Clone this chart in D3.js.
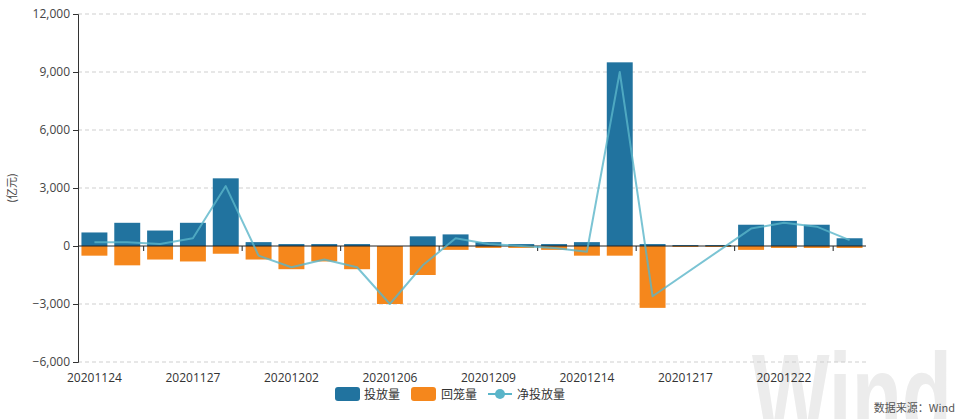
<!DOCTYPE html>
<html><head><meta charset="utf-8">
<script src="https://cdn.jsdelivr.net/npm/d3@7"></script>
<style>
html,body{margin:0;padding:0;background:#fff;}
svg{display:block;font-family:"Noto Sans CJK SC","Noto Sans",sans-serif;}
</style></head>
<body><svg id="c" width="959" height="419"></svg>
<script>
const categories = ["20201124","20201125","20201126","20201127","20201130","20201201","20201202","20201203","20201204","20201206","20201207","20201208","20201209","20201210","20201211","20201214","20201215","20201216","20201217","20201218","20201221","20201222","20201223","20201224"];
const injection = [700,1200,800,1200,3500,200,100,100,100,0,500,600,200,100,100,200,9500,100,50,50,1100,1300,1100,400];
const withdrawal = [-500,-1000,-700,-800,-400,-700,-1200,-800,-1200,-3000,-1500,-200,-100,-100,-200,-500,-500,-3200,-50,-50,-200,-100,-100,-100];
const netInjection = [200,200,100,400,3100,-500,-1100,-700,-1100,-3000,-1000,400,100,0,-100,-300,9000,-2600,null,null,900,1200,1000,300];
const yTicks = [-6000,-3000,0,3000,6000,9000,12000];
const labelIdx = [0,3,6,9,12,15,18,21];
const tickIdx = [2,5,8,11,14,17,20,23];
const seriesNames = ["投放量","回笼量","净投放量"];

const colors = {blue:"#21739f", orange:"#f5871c", line:"#5ab5c9"};
const svg = d3.select("#c");
const pLeft = 78, pRight = 866, pTop = 14, pBottom = 362;

const x = d3.scaleBand().domain(categories).range([pLeft, pRight]).padding(0);
const y = d3.scaleLinear().domain([-6000, 12000]).range([pBottom, pTop]);
const step = x.bandwidth();

// watermark
svg.append("text").attr("x", 752).attr("y", 438).attr("font-size", 120).attr("font-weight", "bold")
  .attr("font-family","'Liberation Sans Narrow','Liberation Sans',Arial,sans-serif")
  .attr("textLength", 200).attr("lengthAdjust", "spacingAndGlyphs")
  .attr("fill", "#ececec").text("Wind");

// grid
svg.append("g").selectAll("line").data(yTicks.filter(d => d !== 0)).join("line")
  .attr("x1", pLeft).attr("x2", pRight).attr("y1", d => y(d)).attr("y2", d => y(d))
  .attr("stroke", "#cfcfcf").attr("stroke-dasharray", "4,3");

// y axis
const yAxis = d3.axisLeft(y).tickValues(yTicks).tickSize(5).tickPadding(3)
  .tickFormat(d => d3.format(",")(d));
const gy = svg.append("g").attr("transform", `translate(${pLeft},0)`).call(yAxis);
gy.select(".domain").attr("stroke", "#333");
gy.selectAll(".tick line").attr("stroke", "#333");
gy.selectAll(".tick text").attr("fill", "#444").attr("font-size", 12)
  .attr("font-family","'Open Sans','Noto Sans',sans-serif");

svg.append("text").attr("transform", `translate(16,${188}) rotate(-90)`)
  .attr("text-anchor", "middle").attr("font-size", 11).attr("fill", "#444").text("(亿元)");

// bars
const bw = step * 0.79;
svg.append("g").selectAll("rect").data(categories).join("rect")
  .attr("x", (d) => x(d) + (step - bw) / 2).attr("width", bw)
  .attr("y", (d, i) => y(injection[i])).attr("height", (d, i) => y(0) - y(injection[i]))
  .attr("fill", colors.blue);
svg.append("g").selectAll("rect").data(categories).join("rect")
  .attr("x", (d) => x(d) + (step - bw) / 2).attr("width", bw)
  .attr("y", y(0)).attr("height", (d, i) => y(withdrawal[i]) - y(0))
  .attr("fill", colors.orange);

// zero axis
svg.append("line").attr("x1", pLeft).attr("x2", pRight).attr("y1", y(0)).attr("y2", y(0))
  .attr("stroke", "#222").attr("stroke-width", 1);
svg.append("g").selectAll("line").data(tickIdx).join("line")
  .attr("x1", i => x(categories[i])).attr("x2", i => x(categories[i]))
  .attr("y1", y(0)).attr("y2", y(0) + 5).attr("stroke", "#222");

// x labels
svg.append("g").selectAll("text").data(labelIdx).join("text")
  .attr("x", i => x(categories[i]) + step / 2).attr("y", 382)
  .attr("text-anchor", "middle").attr("font-size", 12).attr("fill", "#333")
  .attr("font-family","'Open Sans','Noto Sans',sans-serif")
  .text(i => categories[i]);

// net line
const pts = categories.map((c, i) => [x(c) + step / 2, netInjection[i]]).filter(p => p[1] !== null);
svg.append("path").datum(pts)
  .attr("d", d3.line().x(p => p[0]).y(p => y(p[1])))
  .attr("fill", "none").attr("stroke", colors.line).attr("stroke-width", 2).attr("stroke-opacity", 0.8)
  .attr("stroke-linejoin", "round");

// legend
const lg = svg.append("g").attr("font-size", 12).attr("fill", "#333");
lg.append("rect").attr("x", 335).attr("y", 387).attr("width", 25).attr("height", 14).attr("rx", 3).attr("fill", colors.blue);
lg.append("text").attr("x", 364).attr("y", 398.5).text(seriesNames[0]);
lg.append("rect").attr("x", 411).attr("y", 387).attr("width", 25).attr("height", 14).attr("rx", 3).attr("fill", colors.orange);
lg.append("text").attr("x", 441).attr("y", 398.5).text(seriesNames[1]);
lg.append("line").attr("x1", 488).attr("x2", 512).attr("y1", 394).attr("y2", 394).attr("stroke", colors.line).attr("stroke-width", 2);
lg.append("circle").attr("cx", 500).attr("cy", 394).attr("r", 5).attr("fill", colors.line);
lg.append("text").attr("x", 517).attr("y", 398.5).text(seriesNames[2]);

// source
svg.append("text").attr("x", 955).attr("y", 412).attr("text-anchor", "end")
  .attr("font-size", 11).attr("fill", "#555").text("数据来源：Wind");
</script>
</body></html>
